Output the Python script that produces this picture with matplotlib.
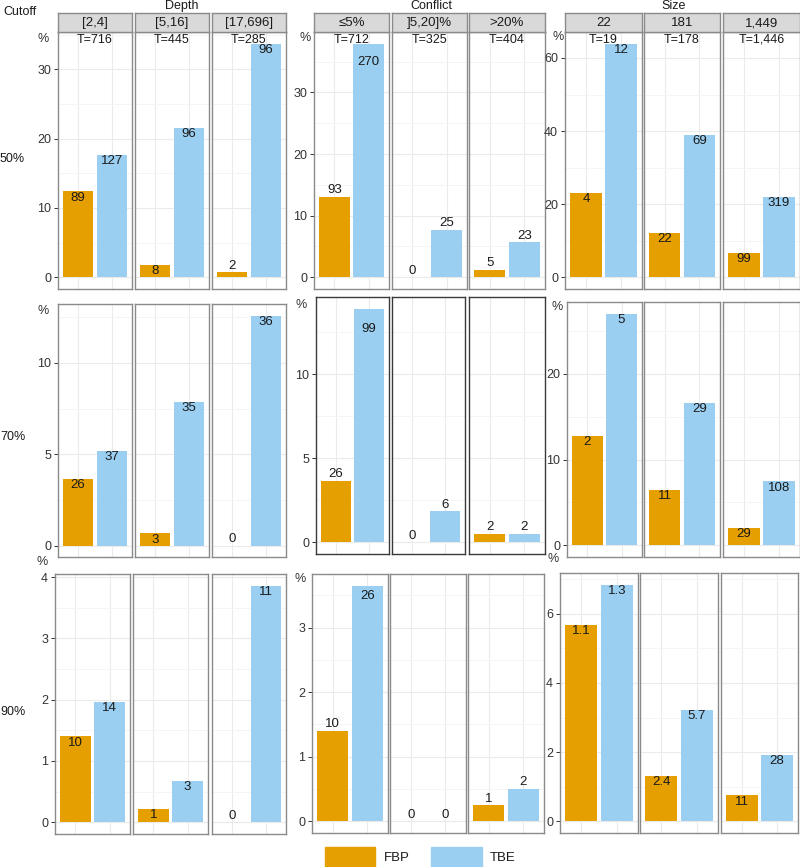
import matplotlib
matplotlib.use("Agg")
import matplotlib.pyplot as plt
from matplotlib.patches import Rectangle
import numpy as np

plt.rcParams['font.family'] = ['Liberation Sans', 'DejaVu Sans']

# ---------------- data ----------------
cutoffs = ["50%", "70%", "90%"]
groups = ["Depth", "Conflict", "Size"]
series = ["FBP", "TBE"]

depth_bins = ["[2,4]", "[5,16]", "[17,696]"]
conflict_bins = ["≤5%", "]5,20]%", ">20%"]
size_bins = ["22", "181", "1,449"]

depth_T = ["T=716", "T=445", "T=285"]
conflict_T = ["T=712", "T=325", "T=404"]
size_T = ["T=19", "T=178", "T=1,446"]

# percentages (bar heights), one list per cutoff
depth_fbp = [[12.4, 1.8, 0.7], [3.63, 0.67, 0.0], [1.40, 0.22, 0.0]]
depth_tbe = [[17.7, 21.6, 33.7], [5.17, 7.87, 12.6], [1.96, 0.67, 3.86]]
conflict_fbp = [[13.1, 0.0, 1.2], [3.65, 0.0, 0.5], [1.40, 0.0, 0.25]]
conflict_tbe = [[37.9, 7.7, 5.7], [13.9, 1.85, 0.5], [3.65, 0.0, 0.5]]
size_fbp = [[23.0, 12.1, 6.7], [12.8, 6.5, 2.0], [5.68, 1.32, 0.75]]
size_tbe = [[63.9, 38.9, 22.0], [27.0, 16.6, 7.45], [6.84, 3.22, 1.92]]

# bar annotations
depth_fbp_lab = [["89", "8", "2"], ["26", "3", "0"], ["10", "1", "0"]]
depth_tbe_lab = [["127", "96", "96"], ["37", "35", "36"], ["14", "3", "11"]]
conflict_fbp_lab = [["93", "0", "5"], ["26", "0", "2"], ["10", "0", "1"]]
conflict_tbe_lab = [["270", "25", "23"], ["99", "6", "2"], ["26", "0", "2"]]
size_fbp_lab = [["4", "22", "99"], ["2", "11", "29"], ["1.1", "2.4", "11"]]
size_tbe_lab = [["12", "69", "319"], ["5", "29", "108"], ["1.3", "5.7", "28"]]

# y ticks per block
depth_ticks = [[0, 10, 20, 30], [0, 5, 10], [0, 1, 2, 3, 4]]
conflict_ticks = [[0, 10, 20, 30], [0, 5, 10], [0, 1, 2, 3]]
size_ticks = [[0, 20, 40, 60], [0, 10, 20], [0, 2, 4, 6]]

# ---------------- styling / layout ----------------
W, H = 800, 867
C_FBP = "#E69F00"
C_TBE = "#9ACFF2"
GRID_MAJ = "#EBEBEB"
GRID_MIN = "#F4F4F4"
BORDER = "#8A8A8A"
TXT = "#1A1A1A"
TICKTXT = "#333333"

fig = plt.figure(figsize=(W / 100, H / 100), dpi=100)


def fax(x0, y0, x1, y1):
    return fig.add_axes([x0 / W, 1 - y1 / H, (x1 - x0) / W, (y1 - y0) / H])


def ftext(x, y, s, **kw):
    fig.text(x / W, 1 - y / H, s, **kw)


# panel x extents per row/group
panel_x = [
    [[(58, 132), (135, 209), (212, 286)], [(314, 389), (392, 467), (469, 545)], [(565, 642), (644, 720), (723, 800)]],
    [[(58, 132), (135, 209), (212, 286)], [(316, 389), (392, 465), (469, 545)], [(567, 642), (644, 720), (723, 800)]],
    [[(55, 130), (133, 208), (212, 286)], [(312, 388), (390, 466), (468, 544)], [(560, 638), (640, 718), (721, 798)]],
]
panel_y = [
    [(32, 289), (32, 289), (32, 289)],
    [(304, 557), (297, 554), (302, 557)],
    [(574, 834), (574, 833), (573, 833)],
]
pct_pos = [
    [(43, 39), (305, 38), (558, 37)],
    [(43, 311), (301, 305), (557, 307)],
    [(42, 562), (300, 579), (553, 559)],
]
conflict_inside_off = [-13.0, -14.5, -7.7]

block_data = {
    "Depth": (depth_fbp, depth_tbe, depth_fbp_lab, depth_tbe_lab, depth_ticks, depth_bins, depth_T),
    "Conflict": (conflict_fbp, conflict_tbe, conflict_fbp_lab, conflict_tbe_lab, conflict_ticks, conflict_bins, conflict_T),
    "Size": (size_fbp, size_tbe, size_fbp_lab, size_tbe_lab, size_ticks, size_bins, size_T),
}

for r in range(3):
    for gi, g in enumerate(groups):
        fbp, tbe, fl, tl, ticks, bins, Ts = block_data[g]
        vmax = max(fbp[r] + tbe[r])
        ylo, yhi = -0.05 * vmax, 1.05 * vmax
        step = ticks[r][1] - ticks[r][0]
        minors = np.arange(ticks[r][0] - step / 2, yhi, step / 2)
        minors = [m for m in minors if ylo <= m <= yhi and m not in ticks[r]]
        y0, y1 = panel_y[r][gi]
        border = "#3A3A3A" if (r == 1 and g == "Conflict") else BORDER
        for p in range(3):
            x0, x1 = panel_x[r][gi][p]
            ax = fax(x0, y0, x1, y1)
            ax.set_axisbelow(True)
            vals = [fbp[r][p], tbe[r][p]]
            labs = [fl[r][p], tl[r][p]]
            ax.bar([1, 2], vals, width=0.9, color=[C_FBP, C_TBE], zorder=2)
            ax.set_xlim(0.4, 2.6)
            ax.set_ylim(ylo, yhi)
            ax.set_xticks([1, 2])
            ax.set_yticks(ticks[r])
            ax.set_yticks(minors, minor=True)
            ax.grid(True, which="major", color=GRID_MAJ, lw=0.8)
            ax.grid(True, which="minor", axis="y", color=GRID_MIN, lw=0.6)
            ax.tick_params(axis="x", length=0, labelbottom=False)
            ax.tick_params(axis="y", which="minor", length=0)
            if p == 0:
                ax.tick_params(axis="y", which="major", length=3, width=0.7,
                               color="#333333", labelsize=9, labelcolor=TICKTXT, pad=2)
            else:
                ax.tick_params(axis="y", which="major", length=0, labelleft=False)
            for s in ax.spines.values():
                s.set_color(border)
                s.set_linewidth(1.0)
            span = yhi - ylo
            for xi, (v, lab) in enumerate(zip(vals, labs)):
                if g == "Conflict":
                    off = conflict_inside_off[r] if v == vmax else 4.7
                else:
                    off = -4.5 if v / span > 0.035 else 4.7
                ax.annotate(lab, (xi + 1, v), xytext=(0, off), textcoords="offset points",
                            ha="center", va="center", fontsize=9.5, color=TXT, zorder=3)
            if r == 0:
                ax.annotate(Ts[p], (0.5, 1.0), xycoords="axes fraction", xytext=(0, -1.2),
                            textcoords="offset points", ha="center", va="top",
                            fontsize=9, color=TXT)
                sax = fax(x0, 13, x1, 32)
                sax.set_facecolor("#D9D9D9")
                sax.set_xticks([])
                sax.set_yticks([])
                for s in sax.spines.values():
                    s.set_color(BORDER)
                    s.set_linewidth(1.0)
                sax.text(0.5, 0.45, bins[p], transform=sax.transAxes, ha="center",
                         va="center", fontsize=9.5, color=TXT)
        px, py = pct_pos[r][gi]
        ftext(px, py, "%", ha="center", va="center", fontsize=9, color=TICKTXT)

# group titles, row labels
for gx, gname in zip([182, 431, 674], groups):
    ftext(gx, 6, gname, ha="center", va="center", fontsize=9, color=TXT)
ftext(3, 12, "Cutoff", ha="left", va="center", fontsize=9, color=TXT)
for ry, lab in zip([159, 437, 712], cutoffs):
    ftext(0, ry, lab, ha="left", va="center", fontsize=9, color=TXT)

# legend
for (lx0, lx1, tx), name, col in zip([(325, 375, 384), (431, 482, 490)], series, [C_FBP, C_TBE]):
    fig.add_artist(Rectangle((lx0 / W, 1 - 867 / H), (lx1 - lx0) / W, 20 / H,
                             transform=fig.transFigure, color=col))
    ftext(tx, 858, name, ha="left", va="center", fontsize=9.5, color=TXT)

fig.savefig("out.png", dpi=100)
